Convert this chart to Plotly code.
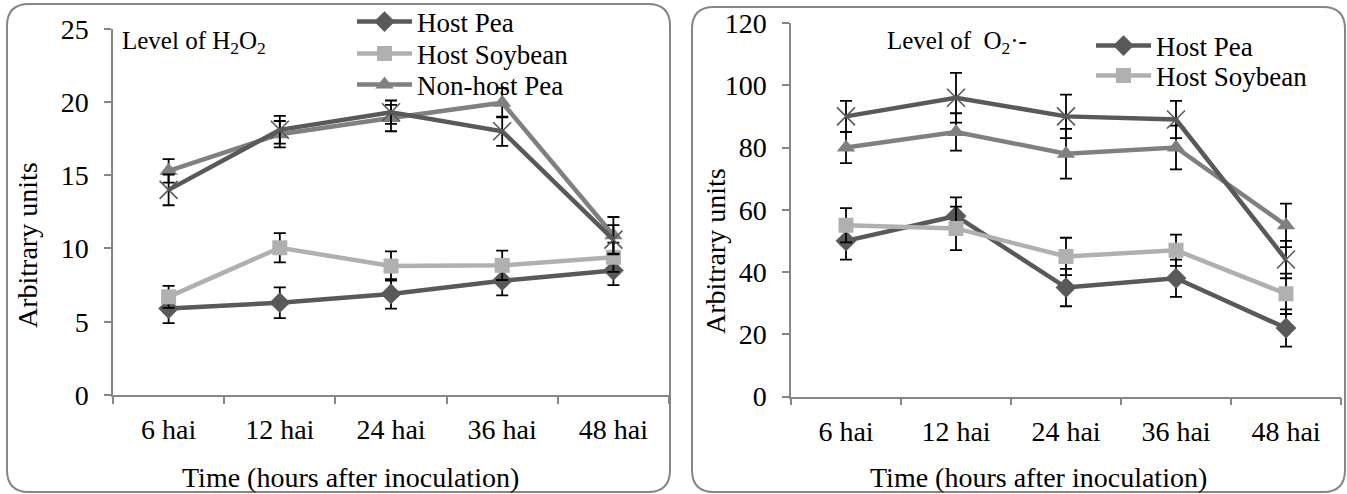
import plotly.graph_objects as go

W, H = 1347, 494

# ---- data -------------------------------------------------------------
times = ["6 hai", "12 hai", "24 hai", "36 hai", "48 hai"]

# H2O2 level (arbitrary units)
h2o2_host_pea = [5.9, 6.3, 6.9, 7.8, 8.5]
h2o2_host_pea_err = [1.0, 1.05, 1.0, 1.0, 1.0]
h2o2_host_soy = [6.7, 10.05, 8.8, 8.85, 9.4]
h2o2_host_soy_err = [0.75, 1.0, 1.0, 1.0, 1.0]
h2o2_nonhost_pea = [15.3, 17.8, 18.9, 19.95, 10.9]
h2o2_nonhost_pea_err = [0.8, 0.9, 0.9, 1.0, 1.25]
h2o2_nonhost_soy = [14.0, 18.1, 19.3, 18.0, 10.6]
h2o2_nonhost_soy_err = [1.05, 0.95, 0.8, 1.0, 1.0]

# superoxide level (arbitrary units)
o2_host_pea = [50, 58, 35, 38, 22]
o2_host_pea_err = [6, 6, 6, 6, 6]
o2_host_soy = [55, 54, 45, 47, 33]
o2_host_soy_err = [5.5, 7, 6, 5, 6.5]
o2_nonhost_pea = [80, 85, 78, 80, 55]
o2_nonhost_pea_err = [5, 6, 8, 7, 7]
o2_nonhost_soy = [90, 96, 90, 89, 44]
o2_nonhost_soy_err = [5, 8, 7, 6, 6]

# ---- styling ------------------------------------------------------------
FONT = "Liberation Serif"
AXIS_GREY = "#868686"
DARK = "#595959"
MID = "#808080"
LIGHT = "#b0b0b0"
TICK_SIZE = 28
TITLE_SIZE = 28
LEGEND_SIZE = 27


def px_x(x):
    return x / W


def px_y(y):
    return 1 - y / H


def err(arr):
    return dict(type="data", array=arr, visible=True, color="black",
                thickness=1.8, width=6)


def series(x, y, e, name, color, symbol, xa, ya, legend, show, size=15, mline=0):
    return go.Scatter(
        x=x, y=y, name=name, mode="lines+markers",
        line=dict(color=color, width=4.5),
        marker=dict(symbol=symbol, size=size, color=color,
                    line=dict(color=color, width=mline)),
        error_y=err(e), xaxis=xa, yaxis=ya,
        legend=legend, showlegend=show,
    )


fig = go.Figure()

# left panel: H2O2
fig.add_trace(series(times, h2o2_host_pea, h2o2_host_pea_err, "Host Pea", DARK,
                     "diamond", "x", "y", "legend", True, 16))
fig.add_trace(series(times, h2o2_host_soy, h2o2_host_soy_err, "Host Soybean", LIGHT,
                     "square", "x", "y", "legend3", True, 15))
fig.add_trace(series(times, h2o2_nonhost_pea, h2o2_nonhost_pea_err, "Non-host Pea", MID,
                     "triangle-up", "x", "y", "legend4", True, 16))
fig.add_trace(series(times, h2o2_nonhost_soy, h2o2_nonhost_soy_err, "Non-host Soybean", DARK,
                     "x-thin", "x", "y", "legend", False, 18, 1.6))

# right panel: superoxide
fig.add_trace(series(times, o2_host_pea, o2_host_pea_err, "Host Pea", DARK,
                     "diamond", "x2", "y2", "legend2", True, 16))
fig.add_trace(series(times, o2_host_soy, o2_host_soy_err, "Host Soybean", LIGHT,
                     "square", "x2", "y2", "legend5", True, 15))
fig.add_trace(series(times, o2_nonhost_pea, o2_nonhost_pea_err, "Non-host Pea", MID,
                     "triangle-up", "x2", "y2", "legend2", False, 16))
fig.add_trace(series(times, o2_nonhost_soy, o2_nonhost_soy_err, "Non-host Soybean", DARK,
                     "x-thin", "x2", "y2", "legend2", False, 18, 1.6))

xaxis_common = dict(
    type="category", categoryorder="array", categoryarray=times,
    range=[-0.5, 4.5], tickson="boundaries", ticks="outside", ticklen=7,
    tickcolor=AXIS_GREY, tickwidth=1.5, showline=True, linecolor=AXIS_GREY,
    linewidth=1.5, showgrid=False, zeroline=False, ticklabelstandoff=9,
    automargin=False,
    tickfont=dict(family=FONT, size=TICK_SIZE, color="black"),
)
yaxis_common = dict(
    ticks="outside", ticklen=7, tickcolor=AXIS_GREY, tickwidth=1.5,
    showline=True, linecolor=AXIS_GREY, linewidth=1.5, showgrid=False,
    zeroline=False, ticklabelstandoff=10, automargin=False,
    tickfont=dict(family=FONT, size=TICK_SIZE, color="black"),
)


def legend_box(x_px, y_px):
    return dict(x=px_x(x_px), y=px_y(y_px), xanchor="left", yanchor="middle",
                bgcolor="rgba(0,0,0,0)", borderwidth=0,
                font=dict(family=FONT, size=LEGEND_SIZE, color="black"),
                itemwidth=55, tracegroupgap=0)


def text_note(text, x_px, y_px, size, angle=0, xanchor="center"):
    return dict(text=text, x=px_x(x_px), y=px_y(y_px), xref="paper", yref="paper",
                xanchor=xanchor, yanchor="middle", showarrow=False, textangle=angle,
                font=dict(family=FONT, size=size, color="black"))


fig.update_layout(
    width=W, height=H,
    margin=dict(l=0, r=0, t=0, b=0, autoexpand=False),
    paper_bgcolor="white", plot_bgcolor="rgba(0,0,0,0)",
    font=dict(family=FONT, color="black"),
    xaxis=dict(**xaxis_common, domain=[px_x(113), px_x(669)], anchor="y"),
    yaxis=dict(**yaxis_common, domain=[px_y(395), px_y(28.7)], range=[0, 25],
               dtick=5, anchor="x"),
    xaxis2=dict(**xaxis_common, domain=[px_x(791), px_x(1341)], anchor="y2"),
    yaxis2=dict(**yaxis_common, domain=[px_y(396.5), px_y(23)], range=[0, 120],
                dtick=20, anchor="x2"),
    legend=legend_box(352, 22),
    legend3=legend_box(352, 54),
    legend4=legend_box(352, 85),
    legend2=legend_box(1091, 46),
    legend5=legend_box(1091, 76),
    annotations=[
        text_note("Level of H<sub>2</sub>O<sub>2</sub>", 120, 42, 25, xanchor="left"),
        text_note("Level of\u00a0 O<sub>2</sub>\u00b7-", 885, 43, 25, xanchor="left"),
        text_note("Arbitrary units", 27, 245, TITLE_SIZE, angle=-90),
        text_note("Arbitrary units", 716, 251, TITLE_SIZE, angle=-90),
        text_note("Time (hours after inoculation)", 351, 477, TITLE_SIZE),
        text_note("Time (hours after inoculation)", 1038, 477, TITLE_SIZE),
    ],
)


def rounded_rect(x0, y0, x1, y1, r):
    pts = [
        ("M", (x0 + r, y0)), ("L", (x1 - r, y0)),
        ("Q", (x1, y0), (x1, y0 + r)), ("L", (x1, y1 - r)),
        ("Q", (x1, y1), (x1 - r, y1)), ("L", (x0 + r, y1)),
        ("Q", (x0, y1), (x0, y1 - r)), ("L", (x0, y0 + r)),
        ("Q", (x0, y0), (x0 + r, y0)),
    ]
    parts = []
    for cmd, *coords in pts:
        parts.append(cmd + " ".join(f"{px_x(cx):.5f},{px_y(cy):.5f}" for cx, cy in coords))
    return " ".join(parts) + " Z"


for frame in [(7, 4, 670, 492), (692, 7, 1345, 492)]:
    fig.add_shape(type="path", path=rounded_rect(*frame, 22), xref="paper",
                  yref="paper", line=dict(color=AXIS_GREY, width=2), layer="below")

fig.write_html("out.html")
